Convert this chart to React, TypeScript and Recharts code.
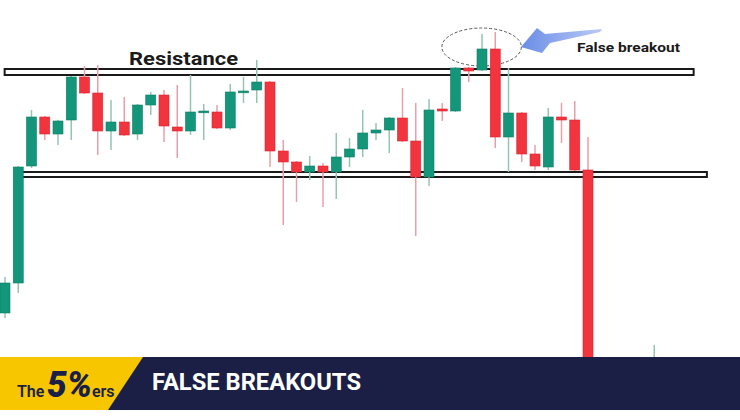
import { ComposedChart, Bar, XAxis, YAxis, ReferenceArea } from 'recharts'

// candle values, one entry per slot (null = no candle drawn in that slot)
const opens = [87, 117, 234, 283, 266, 280, 323, 307, 269, 278, 266, 295, 305, 273, 269, 288, 288, 272, 308, 310, 318, 249, 238, 228, 234, 228, 243, 251, 267, 270, 282, 259, 223, 291, 289, 332, 330, 351, 263, 287, 246, 233, 283, 280, 230, null, null, null, null, 20]
const closes = [117, 233, 283, 266, 279, 323, 307, 269, 278, 265, 295, 305, 274, 269, 288, 289, 272, 308, 309, 318, 249, 238, 228, 234, 228, 243, 251, 267, 270, 282, 259, 223, 290, 289, 332, 329, 351, 263, 287, 246, 234, 283, 280, 230, 15, null, null, null, null, 40]
const highs = [123, 234, 290, 284, 280, 324, 334, 335, 300, 303, 296, 308, 310, 315, 325, 296, 295, 316, 323, 340, 319, 260, 239, 244, 237, 267, 262, 290, 277, 283, 312, 297, 301, 297, 333, 333, 366, 368, 332, 288, 255, 292, 297, 299, 263, null, null, null, null, 55]
const lows = [82, 107, 232, 260, 255, 260, 306, 245, 250, 264, 260, 285, 258, 242, 265, 260, 271, 270, 297, 297, 233, 175, 198, 220, 193, 201, 233, 243, 260, 247, 258, 164, 214, 279, 288, 318, 329, 252, 228, 238, 230, 230, 257, 229, 5, null, null, null, null, 10]
const SLOTS = 56

const RESISTANCE = [325, 331]
const SUPPORT = [223, 228]
const BREAKOUT_ZONE = { x1: 33, x2: 39, y1: 334, y2: 372 }

const GREEN = '#14967a'
const RED = '#f2343f'
const GREEN_WICK = '#93c4b4'
const RED_WICK = '#e8a0a8'
const NAVY = '#1b1f45'
const YELLOW = '#f7c600'

const data = Array.from({ length: SLOTS }, (_, i) => ({
  i,
  open: opens[i] ?? null,
  close: closes[i] ?? null,
  high: highs[i] ?? null,
  low: lows[i] ?? null,
  range: highs[i] != null ? [lows[i], highs[i]] : null,
}))

function Candle(props: any) {
  const { x, y, width, height, payload } = props
  if (!payload || payload.range == null) return null
  const { open, close, high, low } = payload
  const top = Math.min(y, y + height)
  const h = Math.abs(height)
  const k = h / (high - low)
  const cx = x + width / 2
  const up = close >= open
  const bodyTop = top + (high - Math.max(open, close)) * k
  const bodyH = Math.max(Math.abs(open - close) * k, 1.8)
  return (
    <g>
      <line x1={cx} x2={cx} y1={top} y2={top + h} stroke={up ? GREEN_WICK : RED_WICK} strokeWidth={1.5} />
      <rect x={x} y={bodyTop} width={width} height={bodyH} fill={up ? GREEN : RED}
        stroke={up ? '#0f7f67' : '#d92530'} strokeWidth={0.6} />
    </g>
  )
}

// level box drawn from the centre of the first slot to the centre of the last
const levelBox = (slots: number) => (p: any) => {
  const half = p.width / slots / 2
  return <rect x={p.x + half} y={p.y} width={p.width - 2 * half} height={p.height}
    fill="#fff" stroke="#1a1a1a" strokeWidth={2} />
}

const zoneEllipse = (slots: number) => (p: any) => {
  const half = p.width / slots / 2
  return <ellipse cx={p.x + p.width / 2} cy={p.y + p.height / 2} rx={p.width / 2 - half} ry={p.height / 2}
    fill="none" stroke="#555" strokeWidth={1} strokeDasharray="3 2" />
}

export default function App() {
  return (
    <div style={{ position: 'absolute', left: 0, top: 0, width: 740, height: 420, overflow: 'hidden', background: '#fff' }}>
      <div style={{ position: 'absolute', left: -2, top: 0 }}>
        <ComposedChart width={742} height={420} data={data} margin={{ top: 0, right: 0, bottom: 0, left: 0 }}>
          <XAxis dataKey="i" type="category" hide />
          <YAxis type="number" domain={[-20, 400]} allowDataOverflow hide />
          <ReferenceArea x1={0} x2={52} y1={RESISTANCE[0]} y2={RESISTANCE[1]} shape={levelBox(53)} />
          <ReferenceArea x1={1} x2={53} y1={SUPPORT[0]} y2={SUPPORT[1]} shape={levelBox(53)} />
          <Bar dataKey="range" barSize={10} shape={<Candle />} isAnimationActive={false} />
          <ReferenceArea x1={BREAKOUT_ZONE.x1} x2={BREAKOUT_ZONE.x2} y1={BREAKOUT_ZONE.y1} y2={BREAKOUT_ZONE.y2}
            shape={zoneEllipse(BREAKOUT_ZONE.x2 - BREAKOUT_ZONE.x1 + 1)} />
        </ComposedChart>
      </div>
      <svg width={740} height={420} style={{ position: 'absolute', left: 0, top: 0 }}>
        <defs>
          <linearGradient id="arrowFill" x1="0" x2="1" y1="0" y2="0">
            <stop offset="0" stopColor="#6a8de6" />
            <stop offset="1" stopColor="#b9caf4" />
          </linearGradient>
        </defs>
        <text x={129} y={65} fontFamily="Roboto, sans-serif" fontWeight={700} fontSize={19} fill="#1a1a1a"
          textLength={109} lengthAdjust="spacingAndGlyphs">Resistance</text>
        <polygon points="521,47 537,28 545,34 602,29 600,32 550,43 542,53" fill="url(#arrowFill)" />
        <text x={577} y={52} fontFamily="Roboto, sans-serif" fontWeight={700} fontSize={13.5} fill="#1a1a1a"
          textLength={103} lengthAdjust="spacingAndGlyphs">False breakout</text>

        <rect x={0} y={357} width={740} height={53} fill={NAVY} />
        <polygon points="0,357 143,357 108,410 0,410" fill={YELLOW} />
        <text x={17} y={397} fontFamily="Roboto, sans-serif" fontWeight={600} fontSize={16} fill={NAVY}>The</text>
        <text x={47} y={397} fontFamily="Roboto, sans-serif" fontWeight={900} fontStyle="italic" fontSize={36} fill={NAVY}
          textLength={45} lengthAdjust="spacingAndGlyphs">5%</text>
        <text x={92} y={397} fontFamily="Roboto, sans-serif" fontWeight={600} fontSize={16} fill={NAVY}>ers</text>
        <text x={152} y={390} fontFamily="Roboto, sans-serif" fontWeight={700} fontSize={23} fill="#fff"
          textLength={209} lengthAdjust="spacingAndGlyphs">FALSE BREAKOUTS</text>
      </svg>
    </div>
  )
}
